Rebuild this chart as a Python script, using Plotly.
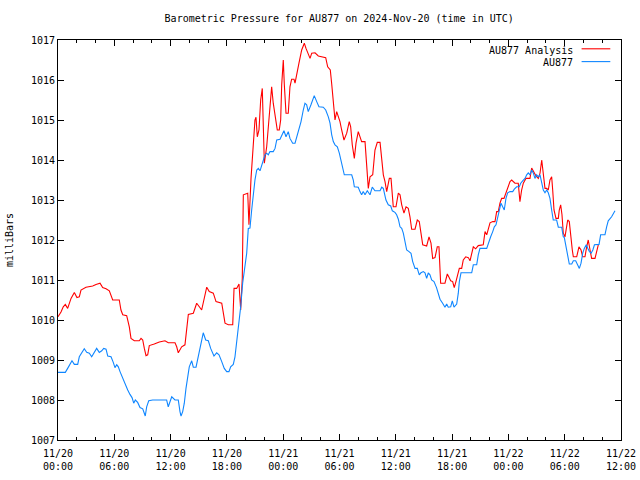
import pandas as pd
import plotly.graph_objects as go

START = pd.Timestamp("2024-11-20 00:00")

analysis_hours = [0.0, 0.32, 0.56, 0.78, 1.03, 1.20, 1.39, 1.74, 2.02, 2.27, 2.45, 2.98, 3.34, 3.70, 4.05, 4.48,
                  4.76, 5.12, 5.47, 5.83, 6.53, 6.71, 6.90, 7.32, 7.60, 7.78, 8.13, 8.66, 8.85, 9.03, 9.20, 9.38,
                  9.56, 9.73, 10.26, 10.80, 11.40, 11.75, 12.47, 12.65, 12.82, 13.18, 13.53, 13.71, 13.89, 14.42,
                  14.78, 15.06, 15.31, 15.85, 16.12, 16.55, 16.84, 17.45, 17.80, 18.15, 18.62, 18.76, 19.04, 19.29,
                  19.47, 19.64, 19.68, 19.75, 20.22, 20.35, 20.57, 20.81, 20.99, 21.10, 21.24, 21.42, 21.60, 21.77,
                  21.88, 21.99, 22.24, 22.52, 22.77, 22.94, 23.13, 23.37, 23.58, 23.73, 23.84, 24.01, 24.12, 24.30,
                  24.54, 24.72, 24.90, 25.15, 25.26, 25.50, 25.68, 25.97, 26.25, 26.43, 26.67, 26.86, 27.04, 27.39,
                  27.74, 28.27, 28.53, 28.74, 29.02, 29.17, 29.34, 29.52, 29.70, 29.87, 30.05, 30.23, 30.48, 30.77,
                  31.04, 31.19, 31.36, 31.58, 31.76, 32.00, 32.36, 32.72, 32.90, 33.07, 33.25, 33.54, 33.78, 34.03,
                  34.32, 34.50, 34.67, 34.85, 35.03, 35.31, 35.49, 35.73, 36.02, 36.27, 36.45, 36.63, 36.87, 37.09,
                  37.33, 37.51, 37.69, 38.05, 38.29, 38.50, 38.68, 38.87, 39.29, 39.54, 39.75, 39.93, 40.18, 40.42,
                  40.60, 40.71, 40.78, 41.24, 41.49, 41.67, 41.85, 42.06, 42.23, 42.41, 42.60, 42.77, 43.02, 43.19,
                  43.45, 43.73, 43.91, 44.09, 44.26, 44.51, 44.79, 45.32, 45.51, 45.69, 45.86, 46.04, 46.33, 46.57,
                  46.75, 46.92, 47.10, 47.28, 47.53, 47.82, 48.17, 48.35, 48.70, 49.05, 49.23, 49.41, 49.59, 49.87,
                  50.30, 50.48, 50.73, 50.94, 51.19, 51.37, 51.55, 51.65, 51.72, 51.90, 52.08, 52.25, 52.43, 52.61,
                  52.72, 52.86, 53.07, 53.32, 53.42, 53.57, 53.71, 53.85, 54.03, 54.21, 54.32, 54.49, 54.64, 54.81,
                  54.92, 55.28, 55.52, 55.74, 55.92, 56.16, 56.34, 56.51, 56.70, 56.87, 57.23, 57.41, 57.58]
analysis_mb = [1010.08, 1010.20, 1010.33, 1010.39, 1010.29, 1010.42, 1010.54, 1010.69, 1010.56, 1010.58, 1010.75,
               1010.82, 1010.83, 1010.85, 1010.89, 1010.92, 1010.81, 1010.78, 1010.73, 1010.50, 1010.50, 1010.25,
               1010.13, 1010.11, 1009.83, 1009.54, 1009.48, 1009.48, 1009.54, 1009.50, 1009.29, 1009.11, 1009.13,
               1009.36, 1009.40, 1009.45, 1009.48, 1009.43, 1009.43, 1009.33, 1009.18, 1009.33, 1009.38, 1009.75,
               1010.14, 1010.17, 1010.42, 1010.33, 1010.25, 1010.82, 1010.71, 1010.67, 1010.46, 1010.42, 1009.92,
               1009.88, 1009.88, 1010.79, 1010.79, 1010.90, 1010.25, 1011.04, 1012.42, 1013.13, 1013.17, 1012.38,
               1013.54, 1014.35, 1015.00, 1015.07, 1014.58, 1014.75, 1015.50, 1015.79, 1014.92, 1013.92, 1014.33,
               1015.25, 1015.83, 1015.42, 1015.08, 1014.75, 1014.75, 1015.00, 1015.88, 1016.50, 1015.88, 1015.17,
               1015.17, 1015.83, 1016.02, 1016.02, 1015.92, 1016.17, 1016.42, 1016.75, 1016.92, 1016.79, 1016.63,
               1016.54, 1016.67, 1016.68, 1016.60, 1016.58, 1016.56, 1016.33, 1016.25, 1015.90, 1015.50, 1015.00,
               1015.21, 1015.08, 1014.96, 1014.75, 1014.50, 1014.67, 1014.96, 1014.83, 1014.38, 1014.04, 1014.42,
               1014.71, 1014.46, 1014.46, 1013.83, 1013.29, 1013.58, 1013.63, 1014.25, 1014.44, 1014.44, 1014.08,
               1013.63, 1013.46, 1013.21, 1013.54, 1013.54, 1012.83, 1012.83, 1013.17, 1013.13, 1012.88, 1012.67,
               1012.83, 1012.79, 1012.58, 1012.27, 1012.27, 1012.50, 1012.46, 1012.17, 1011.88, 1011.85, 1012.08,
               1011.92, 1011.54, 1011.56, 1011.83, 1011.83, 1011.17, 1010.92, 1010.92, 1011.15, 1011.07, 1010.98,
               1010.96, 1010.81, 1010.96, 1011.17, 1011.29, 1011.29, 1011.50, 1011.58, 1011.56, 1011.48, 1011.71,
               1011.83, 1011.78, 1011.86, 1011.88, 1012.21, 1012.13, 1012.29, 1012.43, 1012.46, 1012.46, 1012.71,
               1012.71, 1012.92, 1013.04, 1013.04, 1013.25, 1013.46, 1013.50, 1013.42, 1013.42, 1012.96, 1013.25,
               1013.42, 1013.54, 1013.54, 1013.80, 1013.67, 1013.60, 1013.54, 1013.67, 1014.00, 1013.79, 1013.63,
               1013.29, 1013.29, 1013.25, 1013.50, 1013.58, 1013.25, 1012.75, 1012.54, 1012.54, 1012.75, 1012.88,
               1012.63, 1012.17, 1012.08, 1012.29, 1012.50, 1012.46, 1012.04, 1011.75, 1011.58, 1011.58, 1011.83,
               1011.75, 1011.58, 1011.58, 1011.83, 1012.00, 1011.75, 1011.54, 1011.54, 1011.75, 1011.88]

station_hours = [0.0, 0.78, 1.03, 1.28, 1.49, 1.74, 2.10, 2.27, 2.56, 2.80, 3.06, 3.34, 3.59, 3.87, 4.12, 4.40,
                 4.66, 4.87, 5.12, 5.30, 5.65, 5.89, 6.07, 6.26, 6.43, 6.61, 6.90, 7.17, 7.43, 7.67, 7.89, 8.07,
                 8.24, 8.49, 8.74, 9.03, 9.20, 9.30, 9.45, 9.67, 10.09, 11.58, 11.75, 12.12, 12.47, 12.82, 13.00,
                 13.11, 13.29, 13.46, 13.64, 13.82, 13.99, 14.25, 14.42, 14.71, 14.89, 15.13, 15.31, 15.48, 15.74,
                 16.02, 16.27, 16.62, 16.91, 17.16, 17.45, 17.72, 17.98, 18.22, 18.40, 18.68, 18.86, 19.04, 19.29,
                 19.47, 19.68, 19.75, 19.93, 20.11, 20.28, 20.46, 20.64, 20.81, 20.99, 21.18, 21.35, 21.53, 21.71,
                 21.88, 22.06, 22.24, 22.41, 22.59, 22.94, 23.13, 23.31, 23.66, 23.84, 24.08, 24.30, 24.54, 24.72,
                 25.01, 25.26, 25.44, 25.61, 25.90, 26.14, 26.32, 26.50, 26.67, 26.96, 27.14, 27.31, 27.57, 27.81,
                 28.27, 28.53, 28.81, 28.99, 29.17, 29.34, 29.52, 29.77, 29.98, 30.16, 30.34, 30.51, 31.30, 31.47,
                 31.58, 32.00, 32.18, 32.36, 32.53, 32.72, 32.96, 33.25, 33.49, 33.78, 34.32, 34.50, 34.67, 34.78,
                 34.95, 35.20, 35.46, 35.63, 35.91, 36.09, 36.27, 36.45, 36.63, 36.80, 36.98, 37.16, 37.41, 37.62,
                 37.80, 38.05, 38.29, 38.50, 38.68, 38.93, 39.11, 39.29, 39.46, 39.64, 39.82, 40.07, 40.34, 40.53,
                 40.71, 40.99, 41.24, 41.42, 41.59, 41.85, 42.02, 42.20, 42.49, 42.66, 42.77, 42.95, 44.09, 44.26,
                 44.62, 44.79, 44.97, 45.69, 45.86, 46.11, 46.33, 46.50, 46.68, 46.86, 47.03, 47.21, 47.39, 47.56,
                 47.74, 47.92, 48.17, 48.46, 48.63, 48.88, 49.16, 49.31, 49.52, 49.77, 49.95, 50.12, 50.30, 50.48,
                 50.66, 50.83, 51.01, 51.19, 51.37, 51.55, 51.72, 51.90, 52.08, 52.25, 52.43, 52.61, 52.78, 53.14,
                 53.32, 53.68, 53.85, 53.96, 54.11, 54.28, 54.49, 54.75, 54.92, 55.17, 55.35, 55.56, 55.74, 55.92,
                 56.09, 56.30, 56.47, 56.64, 56.82, 57.00, 57.17, 57.41, 57.66, 57.83, 58.29, 58.47, 58.64, 59.00,
                 59.36]
station_mb = [1008.69, 1008.69, 1008.79, 1008.89, 1008.98, 1008.89, 1008.89, 1009.08, 1009.19, 1009.28, 1009.19,
              1009.17, 1009.08, 1009.21, 1009.29, 1009.19, 1009.23, 1009.29, 1009.27, 1009.10, 1009.08, 1008.94,
              1008.81, 1008.88, 1008.83, 1008.71, 1008.53, 1008.38, 1008.25, 1008.14, 1008.06, 1007.92, 1008.00,
              1007.94, 1007.81, 1007.78, 1007.69, 1007.60, 1007.83, 1007.98, 1008.00, 1008.00, 1007.83, 1008.08,
              1008.00, 1008.00, 1007.71, 1007.60, 1007.71, 1007.92, 1008.29, 1008.58, 1008.83, 1008.98, 1008.82,
              1008.82, 1009.04, 1009.29, 1009.46, 1009.68, 1009.50, 1009.48, 1009.29, 1009.10, 1009.18, 1009.13,
              1008.96, 1008.79, 1008.71, 1008.71, 1008.83, 1008.89, 1009.08, 1009.46, 1009.88, 1010.33, 1010.92,
              1011.04, 1011.25, 1011.67, 1012.29, 1012.30, 1012.75, 1013.17, 1013.50, 1013.75, 1013.79, 1013.73,
              1013.88, 1014.00, 1014.13, 1014.17, 1014.13, 1014.21, 1014.21, 1014.29, 1014.50, 1014.52, 1014.63,
              1014.73, 1014.58, 1014.71, 1014.54, 1014.42, 1014.42, 1014.58, 1014.75, 1014.96, 1015.25, 1015.42,
              1015.38, 1015.21, 1015.38, 1015.50, 1015.61, 1015.46, 1015.33, 1015.32, 1015.25, 1015.08, 1014.92,
              1014.63, 1014.46, 1014.38, 1014.33, 1014.17, 1014.00, 1013.83, 1013.63, 1013.63, 1013.50, 1013.33,
              1013.32, 1013.21, 1013.13, 1013.21, 1013.13, 1013.23, 1013.13, 1013.32, 1013.23, 1013.23, 1013.32,
              1013.29, 1013.17, 1013.00, 1012.88, 1012.85, 1012.73, 1012.69, 1012.63, 1012.52, 1012.33, 1012.29,
              1012.17, 1011.96, 1011.75, 1011.71, 1011.67, 1011.46, 1011.29, 1011.29, 1011.13, 1011.18, 1011.21,
              1011.18, 1011.04, 1011.18, 1011.13, 1011.00, 1010.96, 1010.81, 1010.67, 1010.52, 1010.42, 1010.32,
              1010.40, 1010.32, 1010.33, 1010.48, 1010.32, 1010.40, 1010.67, 1010.96, 1011.18, 1011.18, 1011.38,
              1011.38, 1011.63, 1011.79, 1011.79, 1011.92, 1012.08, 1012.21, 1012.33, 1012.38, 1012.58, 1012.75,
              1012.92, 1012.83, 1012.75, 1013.04, 1013.18, 1013.21, 1013.21, 1013.27, 1013.33, 1013.33, 1013.42,
              1013.48, 1013.54, 1013.63, 1013.68, 1013.63, 1013.75, 1013.67, 1013.54, 1013.63, 1013.58, 1013.63,
              1013.42, 1013.25, 1013.18, 1013.25, 1013.18, 1013.04, 1012.75, 1012.50, 1012.50, 1012.32, 1012.32,
              1012.08, 1012.06, 1011.88, 1011.67, 1011.40, 1011.40, 1011.48, 1011.48, 1011.38, 1011.29, 1011.42,
              1011.67, 1011.79, 1011.88, 1011.79, 1011.71, 1011.67, 1011.75, 1011.88, 1011.88, 1011.89, 1012.13,
              1012.13, 1012.33, 1012.48, 1012.58, 1012.73]

series_names = ["AU877 Analysis", "AU877"]
series_colors = ["#ff0000", "#0f86ff"]
title_text = "Barometric Pressure for AU877 on 2024-Nov-20 (time in UTC)"
y_title = "milliBars"

FONT = "DejaVu Sans Mono"

def to_times(hours):
    return START + pd.to_timedelta(hours, unit="h")

fig = go.Figure()
fig.add_trace(go.Scatter(x=to_times(analysis_hours), y=analysis_mb, mode="lines",
                         name=series_names[0], line=dict(color=series_colors[0], width=1.1)))
fig.add_trace(go.Scatter(x=to_times(station_hours), y=station_mb, mode="lines",
                         name=series_names[1], line=dict(color=series_colors[1], width=1.1)))

# gnuplot-style legend: text on the left, line sample on the right
legend_y = [0.975, 0.943]
for i, (nm, col) in enumerate(zip(series_names, series_colors)):
    fig.add_annotation(xref="paper", yref="paper", x=0.918, y=legend_y[i], text=nm,
                       showarrow=False, xanchor="right", yanchor="middle",
                       font=dict(family=FONT, size=10, color="black"))
    fig.add_shape(type="line", xref="paper", yref="paper", x0=0.93, x1=0.981,
                  y0=legend_y[i] + 0.003, y1=legend_y[i] + 0.003, line=dict(color=col, width=1.1))

fig.update_layout(
    width=640, height=480,
    margin=dict(l=58, r=19, t=40, b=40, autoexpand=False),
    paper_bgcolor="white", plot_bgcolor="white",
    showlegend=False,
    font=dict(family=FONT, size=10, color="black"),
    title=dict(text=title_text, x=0.53, xanchor="center", y=0.962, yanchor="middle",
               font=dict(family=FONT, size=10, color="black")),
)
fig.update_xaxes(
    range=[START, START + pd.Timedelta(hours=60)],
    dtick=6 * 3600 * 1000, tick0=START, tickformat="%m/%d<br>%H:%M",
    ticks="inside", ticklen=6, tickcolor="black", tickwidth=1,
    minor=dict(dtick=2 * 3600 * 1000, ticks="inside", ticklen=3, tickcolor="black"),
    showline=True, linecolor="black", linewidth=1, mirror="ticks",
    showgrid=False, zeroline=False, tickfont=dict(family=FONT, size=10),
    automargin=False, ticklabelstandoff=4,
)
fig.update_yaxes(
    range=[1007, 1017], dtick=1, tick0=1007,
    ticks="inside", ticklen=6, tickcolor="black", tickwidth=1,
    showline=True, linecolor="black", linewidth=1, mirror="ticks",
    showgrid=False, zeroline=False, tickfont=dict(family=FONT, size=10),
    title=dict(text=y_title, font=dict(family=FONT, size=10), standoff=15),
    automargin=False,
)

fig.write_html("out.html", config={"displayModeBar": False},
               post_script="document.body.style.margin='0';")
